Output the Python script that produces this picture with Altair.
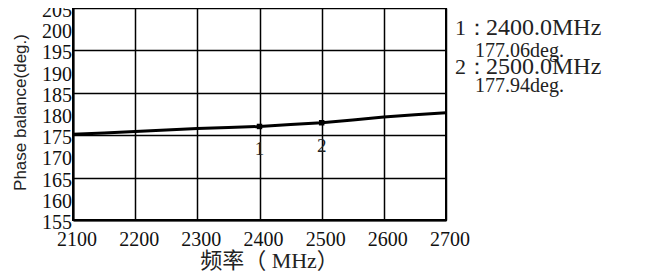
import altair as alt
import pandas as pd

# curve data
freq = [2100, 2150, 2200, 2250, 2300, 2350, 2400, 2450, 2500, 2550, 2600, 2650, 2700]
phase = [175.2, 175.5, 175.9, 176.2, 176.6, 176.8, 177.06, 177.5, 177.94, 178.6, 179.3, 179.8, 180.3]

marker_ids = ["1", "2"]
marker_freq = [2400, 2500]
marker_phase = [177.06, 177.94]

x_ticks = [2100, 2200, 2300, 2400, 2500, 2600, 2700]
y_ticks = [155, 160, 165, 170, 175, 180, 185, 190, 195, 200, 205]

legend_num = ["1：", "2："]
legend_head = ["2400.0MHz", "2500.0MHz"]
legend_sub = ["177.06deg.", "177.94deg."]

df = pd.DataFrame({"f": freq, "p": phase})
dm = pd.DataFrame({"id": marker_ids, "f": marker_freq, "p": marker_phase})
dx = pd.DataFrame({"f": x_ticks, "t": [str(v) for v in x_ticks]})
dy = pd.DataFrame({"p": y_ticks, "t": [str(v) for v in y_ticks]})

SERIF = "Liberation Serif"
H = 212

xs = alt.Scale(domain=[2100, 2700], nice=False, zero=False)
ys = alt.Scale(domain=[155, 205], nice=False, zero=False)

x_enc = alt.X("f:Q", scale=xs,
              axis=alt.Axis(values=x_ticks, title="频率（ MHz）", labels=False,
                            tickSize=0, ticks=False,
                            titleFont="Liberation Serif, Noto Sans CJK SC",
                            titleFontSize=22, titleFontWeight="normal", titleColor="#222",
                            titleX=196, titleY=40, titleBaseline="middle",
                            domainColor="black", domainWidth=2,
                            gridColor="black", gridWidth=1.5, gridOpacity=1))
y_enc = alt.Y("p:Q", scale=ys,
              axis=alt.Axis(values=y_ticks, title="Phase balance(deg.)", labels=False,
                            tickSize=0, ticks=False,
                            titleFont="Liberation Sans", titleFontSize=17,
                            titleFontWeight="normal", titleColor="#222",
                            titleAngle=-90, titleX=-53, titleY=104,
                            titleAlign="center", titleBaseline="middle",
                            domainColor="black", domainWidth=2,
                            gridColor="black", gridWidth=1.5, gridOpacity=1))

line = alt.Chart(df).mark_line(color="black", strokeWidth=3).encode(x=x_enc, y=y_enc)

pts = alt.Chart(dm).mark_square(color="black", size=30, opacity=1).encode(
    x=alt.X("f:Q", scale=xs), y=alt.Y("p:Q", scale=ys))

mlab = alt.Chart(dm).mark_text(font=SERIF, fontSize=19, color="#222", dy=23,
                               baseline="middle", align="center").encode(
    x=alt.X("f:Q", scale=xs), y=alt.Y("p:Q", scale=ys), text="id:N")

xlab = alt.Chart(dx).mark_text(font=SERIF, fontSize=20, color="#111", dx=4,
                               baseline="alphabetic", align="center").encode(
    x=alt.X("f:Q", scale=xs), y=alt.value(H + 26), text="t:N")

ylab = alt.Chart(dy).mark_text(font=SERIF, fontSize=20, color="#111", dy=3,
                               baseline="middle", align="right").encode(
    x=alt.value(-1), y=alt.Y("p:Q", scale=ys), text="t:N")

def txt(s, x, y, size):
    return alt.Chart(pd.DataFrame({"t": [s]})).mark_text(
        font=SERIF, fontSize=size, color="#222", align="left", baseline="alphabetic"
    ).encode(text="t:N", x=alt.value(x), y=alt.value(y))

legend = (txt(legend_num[0], 382, 27, 22) + txt(legend_head[0], 413, 27, 24)
          + txt(legend_sub[0], 402, 49, 20)
          + txt(legend_num[1], 382, 66, 22) + txt(legend_head[1], 413, 66, 24)
          + txt(legend_sub[1], 402, 84, 20))

chart = alt.layer(line, pts, mlab, xlab, ylab, legend).properties(
    width=373, height=H,
    autosize=alt.AutoSizeParams(type="none"),
    padding={"left": 65, "top": 0, "right": 185, "bottom": 56},
    background="white",
).configure_view(stroke="black", strokeWidth=2)

chart.save("out.html", embed_options={"renderer": "svg", "actions": False})
